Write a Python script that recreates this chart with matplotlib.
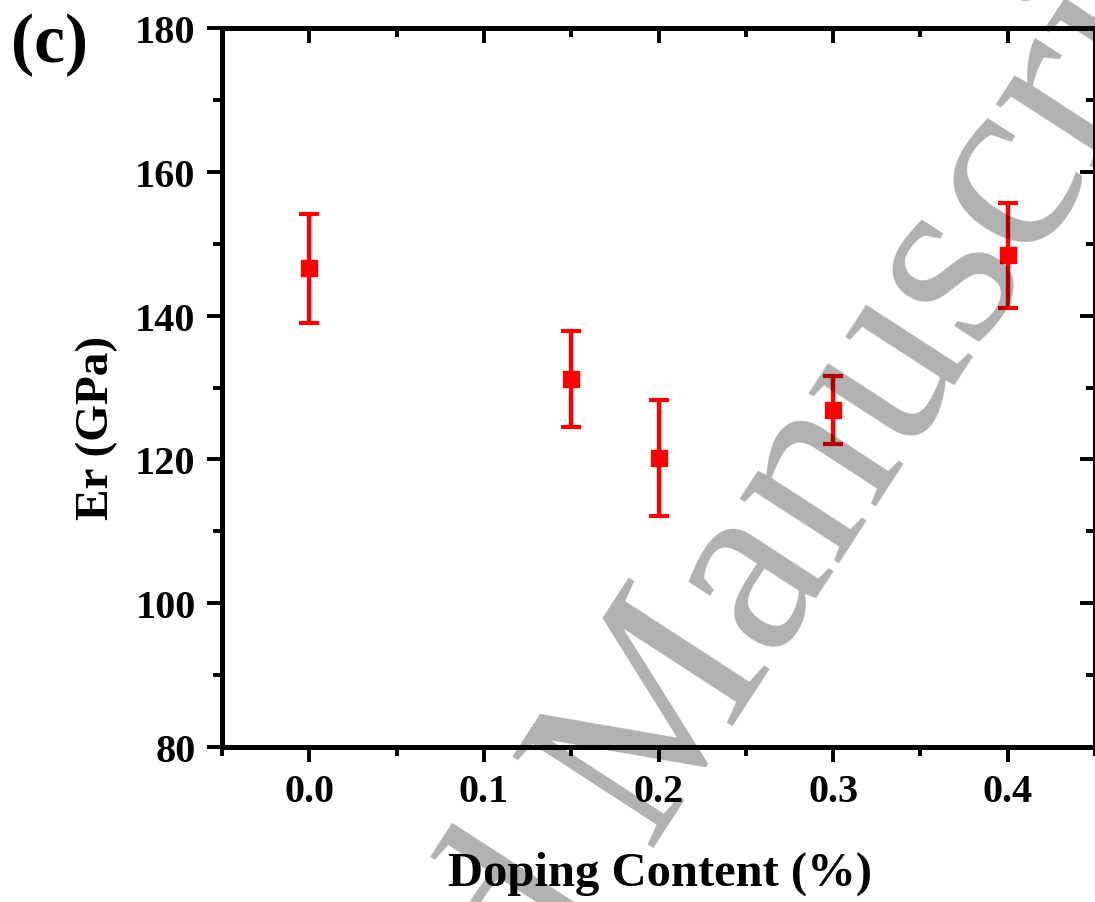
import numpy as np
import matplotlib
matplotlib.use("Agg")
import matplotlib.pyplot as plt
from matplotlib.ticker import MultipleLocator

# data
doping = [0.0, 0.15, 0.2, 0.3, 0.4]
er_gpa = [146.6, 131.2, 120.2, 126.9, 148.4]
er_err = [7.6, 6.7, 8.1, 4.7, 7.3]

xticks = [0.0, 0.1, 0.2, 0.3, 0.4]
yticks = [80, 100, 120, 140, 160, 180]

plt.rcParams['font.family'] = ['Liberation Serif', 'DejaVu Serif']
plt.rcParams['font.weight'] = 'bold'

W, H = 1095, 903
fig = plt.figure(figsize=(W / 100, H / 100), dpi=100)
ax = fig.add_axes([222 / W, (H - 748) / H, (1095 - 222) / W, (748 - 29) / H])

ax.errorbar(doping, er_gpa, yerr=er_err, fmt='s', color='#ff0000',
            markersize=11, elinewidth=3.2, capsize=7, capthick=3.0, zorder=3)

ax.set_xlim(-0.05, 0.45)
ax.set_ylim(80, 180)
ax.set_xticks(xticks)
ax.set_yticks(yticks)
ax.xaxis.set_minor_locator(MultipleLocator(0.05))
ax.yaxis.set_minor_locator(MultipleLocator(10))
ax.set_xticklabels([f"{v:.1f}" for v in xticks])

for s in ax.spines.values():
    s.set_linewidth(3.6)

# origin style: ticks out on left/bottom, in on top/right
ax.tick_params(which='both', top=True, right=True, width=2.8, labelsize=29)
ax.tick_params(axis='x', which='major', length=11, pad=8)
ax.tick_params(axis='y', which='major', length=11, pad=8)
ax.tick_params(which='minor', length=6.5)
ax.tick_params(axis='both', which='both', direction='out')
for t in ax.xaxis.get_major_ticks() + ax.xaxis.get_minor_ticks():
    t.tick2line.set_marker(3)  # top ticks pointing inward
for t in ax.yaxis.get_major_ticks() + ax.yaxis.get_minor_ticks():
    t.tick2line.set_marker(0)  # right ticks pointing inward

fig.text(97 / W, (H - 428) / H, "Er (GPa)", rotation=90, fontsize=34,
         fontweight='bold', ha='center', va='center')
fig.text(660 / W, (H - 886) / H, "Doping Content (%)", fontsize=35,
         fontweight='bold', ha='center', va='baseline')
fig.text(50 / W, (H - 45) / H, "(c)", fontsize=50, fontweight='bold',
         ha='center', va='center')

# grey watermark laid over the figure
wm = dict(fontsize=185, fontweight='normal', rotation=57, rotation_mode='anchor',
          va='baseline', color='black', alpha=0.31, zorder=10)
fig.text(646 / W, (H - 848) / H, "Manuscript", ha='left', **wm)
fig.text(611 / W, (H - 902) / H, "Accepted", ha='right', **wm)

fig.savefig("out.png", dpi=100)
